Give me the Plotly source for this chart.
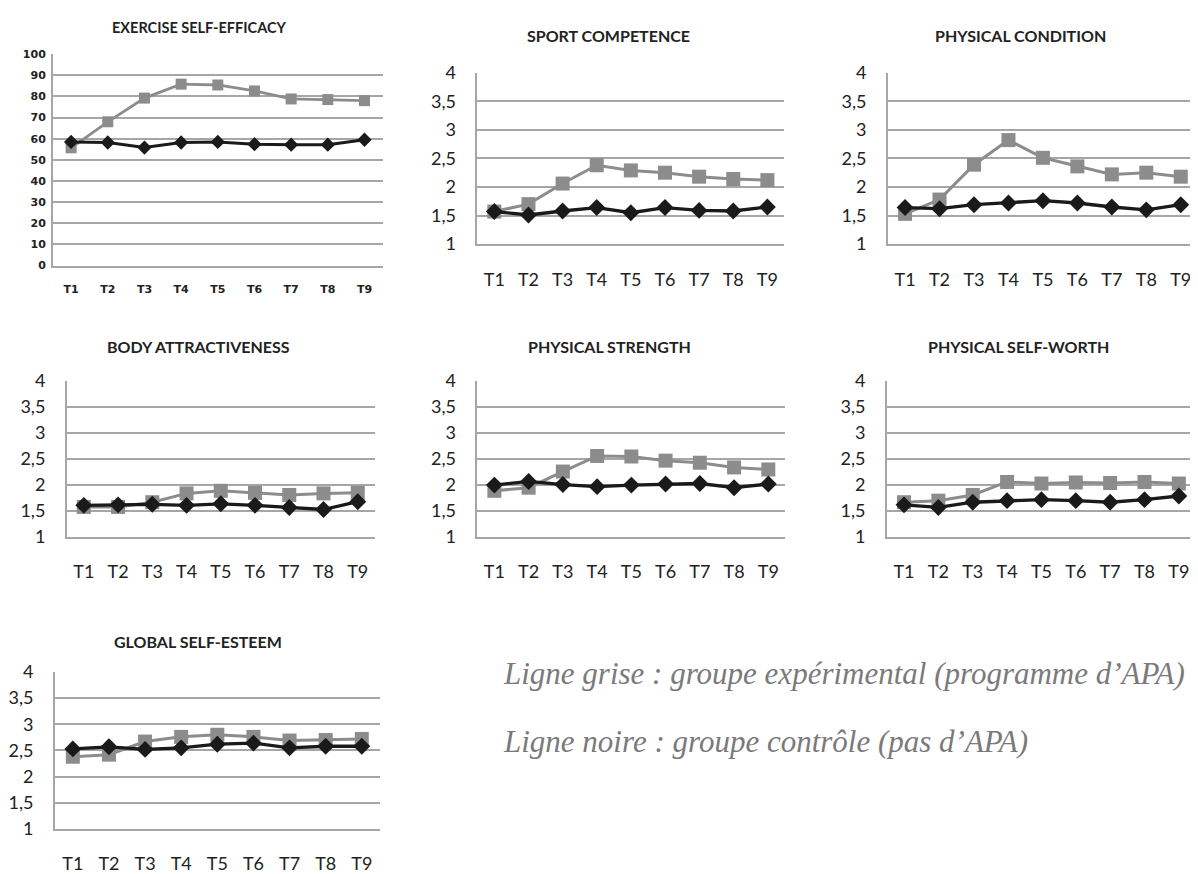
import plotly.graph_objects as go

# ---------------- data ----------------
times = ["T1", "T2", "T3", "T4", "T5", "T6", "T7", "T8", "T9"]

titles = [
    "EXERCISE SELF-EFFICACY",
    "SPORT COMPETENCE",
    "PHYSICAL CONDITION",
    "BODY ATTRACTIVENESS",
    "PHYSICAL STRENGTH",
    "PHYSICAL SELF-WORTH",
    "GLOBAL SELF-ESTEEM",
]

# grey line: experimental group (APA programme)
exp_self_efficacy = [55.7, 68.0, 79.2, 85.8, 85.4, 82.6, 78.8, 78.5, 78.0]
exp_sport_competence = [1.57, 1.70, 2.06, 2.38, 2.29, 2.25, 2.18, 2.14, 2.12]
exp_physical_condition = [1.53, 1.78, 2.39, 2.82, 2.51, 2.36, 2.22, 2.25, 2.18]
exp_body_attractiveness = [1.57, 1.57, 1.66, 1.83, 1.88, 1.84, 1.80, 1.83, 1.84]
exp_physical_strength = [1.88, 1.94, 2.25, 2.55, 2.54, 2.46, 2.42, 2.33, 2.29]
exp_physical_self_worth = [1.66, 1.69, 1.80, 2.05, 2.02, 2.04, 2.03, 2.05, 2.02]
exp_global_self_esteem = [2.38, 2.42, 2.67, 2.76, 2.80, 2.76, 2.69, 2.70, 2.72]

# black line: control group (no APA)
ctl_self_efficacy = [58.5, 58.2, 55.8, 58.2, 58.5, 57.4, 57.2, 57.2, 59.5]
ctl_sport_competence = [1.57, 1.51, 1.58, 1.64, 1.55, 1.64, 1.59, 1.58, 1.65]
ctl_physical_condition = [1.64, 1.62, 1.69, 1.72, 1.76, 1.72, 1.65, 1.60, 1.69]
ctl_body_attractiveness = [1.60, 1.61, 1.62, 1.60, 1.63, 1.60, 1.56, 1.52, 1.67]
ctl_physical_strength = [1.99, 2.06, 2.00, 1.96, 1.99, 2.01, 2.02, 1.94, 2.01]
ctl_physical_self_worth = [1.61, 1.56, 1.66, 1.69, 1.71, 1.69, 1.66, 1.71, 1.78]
ctl_global_self_esteem = [2.53, 2.57, 2.52, 2.55, 2.62, 2.64, 2.55, 2.58, 2.58]

exp_series = [exp_self_efficacy, exp_sport_competence, exp_physical_condition,
              exp_body_attractiveness, exp_physical_strength,
              exp_physical_self_worth, exp_global_self_esteem]
ctl_series = [ctl_self_efficacy, ctl_sport_competence, ctl_physical_condition,
              ctl_body_attractiveness, ctl_physical_strength,
              ctl_physical_self_worth, ctl_global_self_esteem]

efficacy_ticks = [0, 10, 20, 30, 40, 50, 60, 70, 80, 90, 100]
scale_ticks = [1, 1.5, 2, 2.5, 3, 3.5, 4]
scale_ticktext = ["1", "1,5", "2", "2,5", "3", "3,5", "4"]

note_grey = "Ligne grise : groupe expérimental (programme d’APA)"
note_black = "Ligne noire : groupe contrôle (pas d’APA)"

# ---------------- layout ----------------
OFF = 8                      # page body margin
W, H = 1198 - OFF, 874 - OFF
# panel plot areas in page pixels: left, right, top, bottom
panels = [
    (46, 378, 43, 260),
    (473, 782, 62, 238),
    (886, 1198, 62, 238),
    (60, 370, 378, 538),
    (473, 783, 378, 538),
    (885, 1196, 378, 538),
    (48, 375, 677, 838),
]
title_pos = [(194, 16), (605, 24), (1019, 24), (193, 343), (606, 343), (1017, 343), (192, 646)]


def px(x):
    return (x - OFF) / W


def py(y):
    return 1 - (y - OFF) / H


GREY = "#8c8c8c"
BLACK = "#1a1a1a"
AXIS = "#a6a6a6"
TXT = "#222222"

fig = go.Figure()
layout = dict(
    width=W, height=H,
    margin=dict(l=0, r=0, t=0, b=0),
    paper_bgcolor="white", plot_bgcolor="white",
    showlegend=False,
    annotations=[],
)

for i in range(7):
    n = "" if i == 0 else str(i + 1)
    xa, ya = "x" + n, "y" + n
    l, r, t, b = panels[i]
    small = (i == 0)
    if small:
        tick_font = dict(family="DejaVu Sans", size=11, color=TXT, weight="bold")
    else:
        tick_font = dict(family="Lato", size=18, color=TXT)
    fig.add_trace(go.Scatter(
        x=times, y=exp_series[i], xaxis=xa, yaxis=ya, mode="lines+markers",
        line=dict(color=GREY, width=2.8 if small else 3),
        marker=dict(symbol="square", size=11 if small else 14, color=GREY),
        cliponaxis=False, hoverinfo="skip"))
    fig.add_trace(go.Scatter(
        x=times, y=ctl_series[i], xaxis=xa, yaxis=ya, mode="lines+markers",
        line=dict(color=BLACK, width=3 if small else 3.3),
        marker=dict(symbol="diamond", size=11 if small else 13, color=BLACK),
        cliponaxis=False, hoverinfo="skip"))
    layout["xaxis" + n] = dict(
        domain=[px(l), min(px(r), 1.0)], anchor=ya,
        type="category", range=[-0.5, 8.5],
        showgrid=False, zeroline=False,
        showline=True, linecolor=AXIS, linewidth=1.5,
        ticks="", tickfont=tick_font,
        ticklabelstandoff=12 if small else 18,
        fixedrange=True,
    )
    if small:
        yrange = [0, 100]
        tv, tt = efficacy_ticks, [str(v) for v in efficacy_ticks]
    else:
        yrange = [1, 4]
        tv, tt = scale_ticks, scale_ticktext
    layout["yaxis" + n] = dict(
        domain=[py(b), py(t)], anchor=xa,
        range=yrange, tickvals=tv, ticktext=tt,
        showgrid=True, gridcolor=AXIS, gridwidth=1.5,
        zeroline=False, showline=True, linecolor=AXIS, linewidth=1.5,
        ticks="", tickfont=tick_font,
        ticklabelstandoff=3 if small else 16,
        fixedrange=True,
    )
    tx, ty = title_pos[i]
    layout["annotations"].append(dict(
        text="<b>" + titles[i] + "</b>", x=px(tx), y=py(ty),
        xref="paper", yref="paper", xanchor="center", yanchor="middle",
        showarrow=False,
        font=dict(family="Lato", size=14.5 if small else 16, color=TXT)))

layout["annotations"].append(dict(
    text="<i>" + note_grey + "</i>", x=px(497), y=py(679),
    xref="paper", yref="paper", xanchor="left", yanchor="middle", showarrow=False,
    font=dict(family="Liberation Serif", size=31, color="#7a7a7a")))
layout["annotations"].append(dict(
    text="<i>" + note_black + "</i>", x=px(497), y=py(748),
    xref="paper", yref="paper", xanchor="left", yanchor="middle", showarrow=False,
    font=dict(family="Liberation Serif", size=31, color="#7a7a7a")))

fig.update_layout(**layout)
fig.write_html("out.html")
